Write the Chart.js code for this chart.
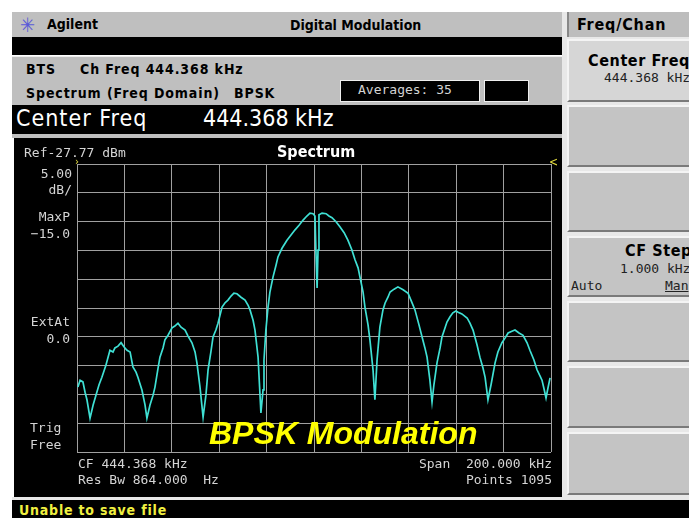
<!DOCTYPE html>
<html>
<head>
<meta charset="utf-8">
<script src="https://cdn.jsdelivr.net/npm/chart.js@4.4.1/dist/chart.umd.min.js"></script>
<style>
  body { margin: 0; width: 689px; height: 518px; background: #fff; position: relative; overflow: hidden;
         font-family: "DejaVu Sans Condensed", "Liberation Sans Narrow", "DejaVu Sans", sans-serif; }
  .abs { position: absolute; white-space: nowrap; }
  .gray { background: #bfbfbf; }
  .blk { background: #000; }
  .hd { font-weight: bold; font-size: 14px; color: #000; }
  .hd2 { font-weight: bold; font-size: 14px; color: #000; letter-spacing: 0.9px; }
  .scr { color: #d4d4d4; font-size: 13px; font-family: "DejaVu Sans Mono", monospace; }
  .mono { font-family: "DejaVu Sans Mono", monospace; font-size: 13px; color: #222; }
  .key { position: absolute; left: 567px; width: 122px; background: #c4c4c4;
         border-top: 2px solid #f4f4f4; border-left: 2px solid #f4f4f4; border-bottom: 2px solid #7a7a7a; box-sizing: border-box; }
</style>
</head>
<body>
<!-- instrument frame -->
<div class="abs gray" style="left:12px;top:12px;width:551px;height:25px;"></div>
<div class="abs" style="left:20px;top:13px;font-size:20px;color:#5a5ad8;">&#10035;</div>
<div class="abs hd" style="left:47px;top:16px;">Agilent</div>
<div class="abs hd" style="left:290px;top:17px;">Digital Modulation</div>
<div class="abs blk" style="left:12px;top:37px;width:551px;height:18px;"></div>
<div class="abs gray" style="left:12px;top:56px;width:551px;height:49px;border-top:1px solid #eee;"></div>
<div class="abs hd2" style="left:26px;top:61px;">BTS</div>
<div class="abs hd2" style="left:80px;top:61px;">Ch Freq 444.368 kHz</div>
<div class="abs hd2" style="left:26px;top:85px;">Spectrum (Freq Domain)</div>
<div class="abs hd2" style="left:234px;top:85px;">BPSK</div>
<div class="abs blk" style="left:340px;top:80px;width:140px;height:22px;border:1px solid #eee;box-sizing:border-box;"></div>
<div class="abs scr" style="left:358px;top:82px;font-size:13px;">Averages:&nbsp;35</div>
<div class="abs blk" style="left:484px;top:80px;width:45px;height:22px;border:1px solid #eee;box-sizing:border-box;"></div>
<div class="abs blk" style="left:12px;top:105px;width:551px;height:29px;"></div>
<div class="abs" style="left:16px;top:105px;font-size:23px;color:#fff;letter-spacing:1px;">Center Freq</div>
<div class="abs" style="left:203px;top:105px;font-size:23px;color:#fff;">444.368 kHz</div>
<div class="abs gray" style="left:12px;top:134px;width:551px;height:4px;"></div>
<div class="abs blk" style="left:14px;top:138px;width:548px;height:359px;"></div>
<div class="abs" style="left:12px;top:497px;width:677px;height:3px;background:#e8e8e8;"></div>
<div class="abs blk" style="left:12px;top:500px;width:677px;height:18px;"></div>
<div class="abs" style="left:19px;top:502px;font-size:14px;font-weight:bold;color:#f0f040;letter-spacing:0.8px;">Unable to save file</div>

<!-- softkey panel -->
<div class="abs" style="left:562px;top:12px;width:127px;height:485px;background:#e8e8e8;"></div>
<div class="abs" style="left:567px;top:12px;width:122px;height:25px;background:#bdbdbd;border-left:2px solid #888;box-sizing:border-box;"></div>
<div class="abs hd" style="left:577px;top:15px;font-size:16px;letter-spacing:0.8px;">Freq/Chan</div>
<div class="key" style="top:39px;height:63px;background:#d6d6d6;"></div>
<div class="abs hd" style="left:588px;top:51px;font-size:16px;letter-spacing:0.6px;">Center Freq</div>
<div class="abs mono" style="left:604px;top:70px;">444.368 kHz</div>
<div class="key" style="top:105px;height:62px;"></div>
<div class="key" style="top:171px;height:61px;"></div>
<div class="key" style="top:236px;height:61px;"></div>
<div class="abs hd" style="left:625px;top:241px;font-size:16px;letter-spacing:0.6px;">CF Step</div>
<div class="abs mono" style="left:620px;top:261px;">1.000 kHz</div>
<div class="abs mono" style="left:571px;top:278px;">Auto</div>
<div class="abs mono" style="left:665px;top:278px;text-decoration:underline;">Man</div>
<div class="key" style="top:301px;height:61px;"></div>
<div class="key" style="top:366px;height:62px;"></div>
<div class="key" style="top:432px;height:63px;"></div>

<!-- chart -->
<div class="abs" style="left:14px;top:138px;width:548px;height:359px;">
  <canvas id="spec" width="548" height="359"></canvas>
</div>

<!-- screen annotations -->
<div class="abs scr" style="left:24px;top:145px;">Ref-27.77 dBm</div>
<div class="abs" style="left:277px;top:142px;font-size:16px;font-weight:bold;color:#fff;">Spectrum</div>
<div class="abs" style="left:75px;top:155px;font-size:11px;color:#e8e040;">&#8250;</div>
<div class="abs" style="left:549px;top:155px;font-size:12px;color:#e8e040;">&lt;</div>
<div class="abs scr" style="left:22px;top:166px;width:50px;text-align:right;line-height:16px;">5.00<br>dB/</div>
<div class="abs scr" style="left:20px;top:208px;width:50px;text-align:right;line-height:17px;">MaxP<br>&minus;15.0</div>
<div class="abs scr" style="left:20px;top:313px;width:50px;text-align:right;line-height:17px;">ExtAt<br>0.0</div>
<div class="abs scr" style="left:30px;top:419px;line-height:17px;">Trig<br>Free</div>
<div class="abs scr" style="left:78px;top:456px;line-height:16px;">CF 444.368 kHz<br>Res Bw 864.000&nbsp;&nbsp;Hz</div>
<div class="abs scr" style="left:380px;top:456px;width:172px;text-align:right;line-height:16px;">Span&nbsp;&nbsp;200.000 kHz<br>Points 1095</div>
<div class="abs" style="left:209px;top:415px;font-family:'Liberation Sans',Arial,sans-serif;font-size:32px;font-weight:bold;font-style:italic;color:#ffff00;">BPSK Modulation</div>

<script>
// analyzer settings
const centerFreqKHz = 444.368;
const spanKHz = 200;
const refLevel = -27.77;
const dbPerDiv = 5;
const divisions = 10;

// trace: offset from center freq (kHz) and level (dBm)
const freqOffset = [
  -99.6, -98.7, -97.5, -96.6, -95.8, -94.5, -93.2, -92.0, -90.7, -89.5,
  -87.8, -86.1, -84.8, -84.0, -82.7, -81.4, -80.2, -78.9, -77.6, -76.4,
  -75.1, -74.3, -72.6, -71.3, -70.5, -69.2, -67.9, -67.1, -65.8, -65.0,
  -63.7, -62.9, -61.6, -59.9, -58.7, -57.4, -56.1, -54.4, -53.2, -51.5,
  -50.2, -49.4, -48.1, -46.8, -45.6, -44.7, -43.5, -42.6, -41.4, -40.5,
  -38.8, -37.6, -36.3, -35.0, -33.8, -32.5, -30.8, -29.1, -27.8, -27.0,
  -25.7, -24.9, -23.6, -22.4, -21.5, -21.1, -20.3, -19.4, -18.6, -17.3,
  -16.0, -15.2, -13.5, -11.4, -9.7, -8.0, -6.3, -4.6, -3.0, -1.7,
  -0.4, 0.4, 0.8, 1.3, 1.7, 2.1, 3.4, 5.1, 6.3, 7.6,
  9.3, 11.0, 12.7, 14.3, 16.0, 17.3, 18.6, 19.4, 20.7, 21.5,
  22.8, 23.6, 24.9, 25.7, 26.6, 27.8, 29.1, 30.0, 31.2, 32.1,
  33.8, 35.4, 37.6, 39.7, 40.9, 42.6, 44.3, 45.6, 46.8, 47.7,
  48.9, 49.8, 50.6, 51.9, 53.2, 54.0, 55.3, 56.1, 57.4, 58.6,
  59.9, 60.8, 62.4, 64.6, 65.8, 67.1, 68.8, 70.0, 71.3, 72.2,
  73.4, 74.7, 76.4, 77.6, 79.3, 80.6, 81.9, 83.5, 84.8, 86.5,
  88.2, 89.9, 91.1, 92.8, 94.1, 95.4, 96.2, 97.0, 97.9, 98.7,
  99.6
];
const levelDbm = [
  -66.5, -65.3, -65.6, -67.4, -68.7, -71.9, -69.6, -67.9, -66.1, -64.8,
  -62.7, -60.1, -60.4, -59.7, -59.4, -58.8, -59.5, -60.1, -60.4, -63.0,
  -63.9, -64.8, -67.0, -69.6, -71.9, -69.6, -67.9, -66.5, -63.2, -61.3,
  -59.7, -58.3, -57.5, -56.2, -55.9, -55.4, -56.1, -56.6, -57.6, -58.8,
  -60.4, -62.3, -66.5, -71.7, -67.9, -63.5, -60.4, -57.8, -56.6, -55.4,
  -52.6, -51.9, -51.4, -50.7, -50.2, -50.3, -50.9, -51.4, -52.3, -53.1,
  -54.9, -56.6, -61.3, -71.0, -67.0, -61.8, -56.6, -52.6, -50.0, -47.4,
  -45.3, -43.9, -42.4, -41.0, -40.1, -39.2, -38.4, -37.5, -36.8, -36.3,
  -36.4, -36.8, -42.7, -49.3, -42.7, -36.6, -36.3, -36.4, -36.8, -37.1,
  -37.8, -38.7, -39.7, -41.0, -42.7, -44.4, -45.8, -47.4, -50.0, -52.6,
  -55.7, -58.3, -63.5, -68.7, -61.8, -56.1, -53.1, -51.9, -50.9, -50.0,
  -49.5, -49.1, -49.6, -50.2, -51.4, -53.1, -55.7, -57.8, -59.7, -61.3,
  -65.3, -69.1, -66.1, -62.3, -59.7, -57.8, -56.2, -55.2, -54.3, -53.6,
  -53.3, -53.5, -53.8, -54.5, -55.4, -56.6, -59.2, -61.3, -63.2, -64.8,
  -68.7, -66.1, -62.3, -60.4, -58.8, -58.0, -57.1, -56.8, -56.6, -57.1,
  -57.5, -58.8, -60.1, -61.8, -63.5, -64.6, -65.3, -66.7, -68.4, -66.7,
  -64.9
];

const points = freqOffset.map((f, i) => ({ x: f, y: levelDbm[i] }));
const bottomLevel = refLevel - dbPerDiv * divisions;
const gridColor = '#a0a0a0';

new Chart(document.getElementById('spec'), {
  type: 'line',
  data: {
    datasets: [
      {
        label: 'Spectrum',
        data: points,
        borderColor: '#3fe0d4',
        borderWidth: 1.7,
        pointRadius: 0,
        tension: 0,
      },
    ],
  },
  options: {
    responsive: false,
    animation: false,
    events: [],
    layout: { padding: { left: 63, right: 11, top: 26, bottom: 45 } },
    plugins: {
      legend: { display: false },
      tooltip: { enabled: false },
    },
    scales: {
      x: {
        type: 'linear',
        min: -spanKHz / 2,
        max: spanKHz / 2,
        ticks: { display: false, stepSize: spanKHz / divisions },
        grid: { color: gridColor, drawTicks: false },
        border: { display: false },
      },
      y: {
        min: bottomLevel,
        max: refLevel,
        afterBuildTicks: (scale) => {
          const t = [];
          for (let i = 0; i <= divisions; i++) t.push({ value: bottomLevel + i * dbPerDiv });
          scale.ticks = t;
        },
        ticks: { display: false },
        grid: { color: gridColor, drawTicks: false },
        border: { display: false },
      },
    },
  },
});
</script>
</body>
</html>
